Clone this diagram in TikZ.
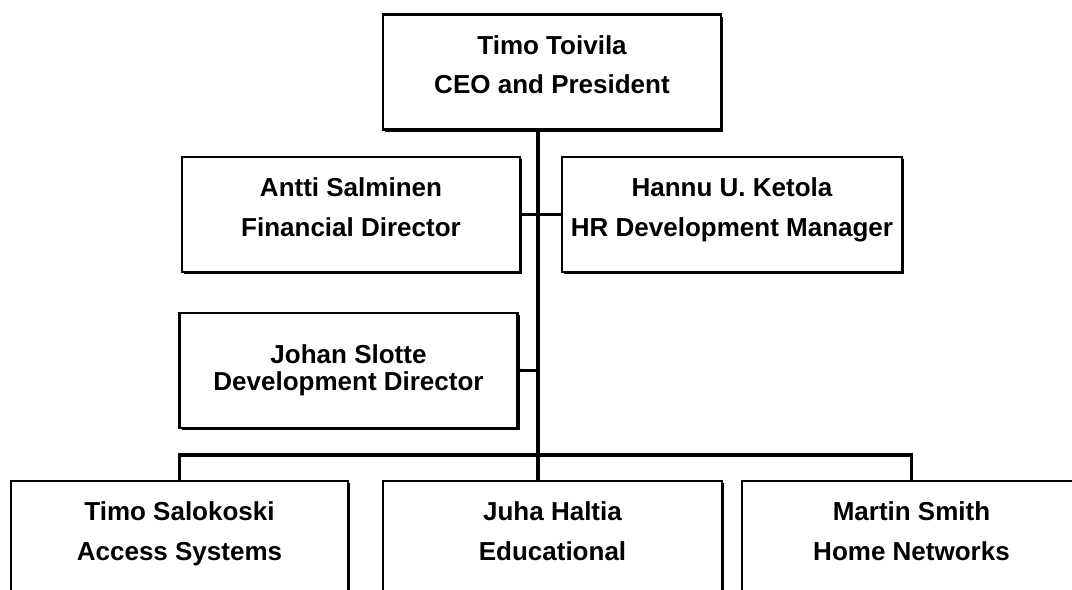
\documentclass[tikz,border=0pt]{standalone}
\usepackage{fontspec}
\setmainfont{Liberation Sans}
\usetikzlibrary{shadows}

\begin{document}
\begin{tikzpicture}[x=0.02cm, y=-0.02cm,
    person/.style={draw, line width=1.2pt, fill=white, inner sep=0pt,
      minimum width=6.76cm, minimum height=2.3cm, align=center,
      font=\bfseries\fontsize{14.8}{22.5}\selectfont,
      drop shadow={shadow xshift=0.045cm, shadow yshift=-0.045cm, fill=black, opacity=1}},
    raised/.style={person, execute at end node={\rule[-0.3cm]{0pt}{0pt}}},
    link/.style={line width=1.8pt}]
            \useasboundingbox (0,0) rectangle (1072,589);
            \clip (0,0) rectangle (1072,589);

            % People
            \node[raised] (ceo) at (552,72) {Timo Toivila\\CEO and President};
            \node[raised] (fin) at (351,214.5) {Antti Salminen\\Financial Director};
            \node[raised, minimum width=6.8cm] (hr) at (732,214.5) {Hannu U. Ketola\\HR Development Manager};
            \node[person, font=\bfseries\fontsize{14.8}{15.6}\selectfont] (dev) at (348.5,370.5) {Johan Slotte\\Development Director};
            \node[raised, minimum width=6.74cm] (acc) at (179.5,538.5) {Timo Salokoski\\Access Systems};
            \node[raised, minimum width=6.78cm] (edu) at (552.5,538.5) {Juha Haltia\\Educational};
            \node[raised, minimum width=6.78cm] (home) at (911.5,538.5) {Martin Smith\\Home Networks};

            % Lines
            \coordinate (bus) at (538,455);
            \draw[link] (ceo.south -| bus) -- (bus |- edu.north);
            \draw[link] (fin.east) -- (hr.west);
            \draw[link] (dev.east) -- (dev.east -| bus);
            \fill (dev.east) circle (2.5);
            \draw[link] (acc.north) |- (bus) -| (home.north);
        \end{tikzpicture}
\end{document}
